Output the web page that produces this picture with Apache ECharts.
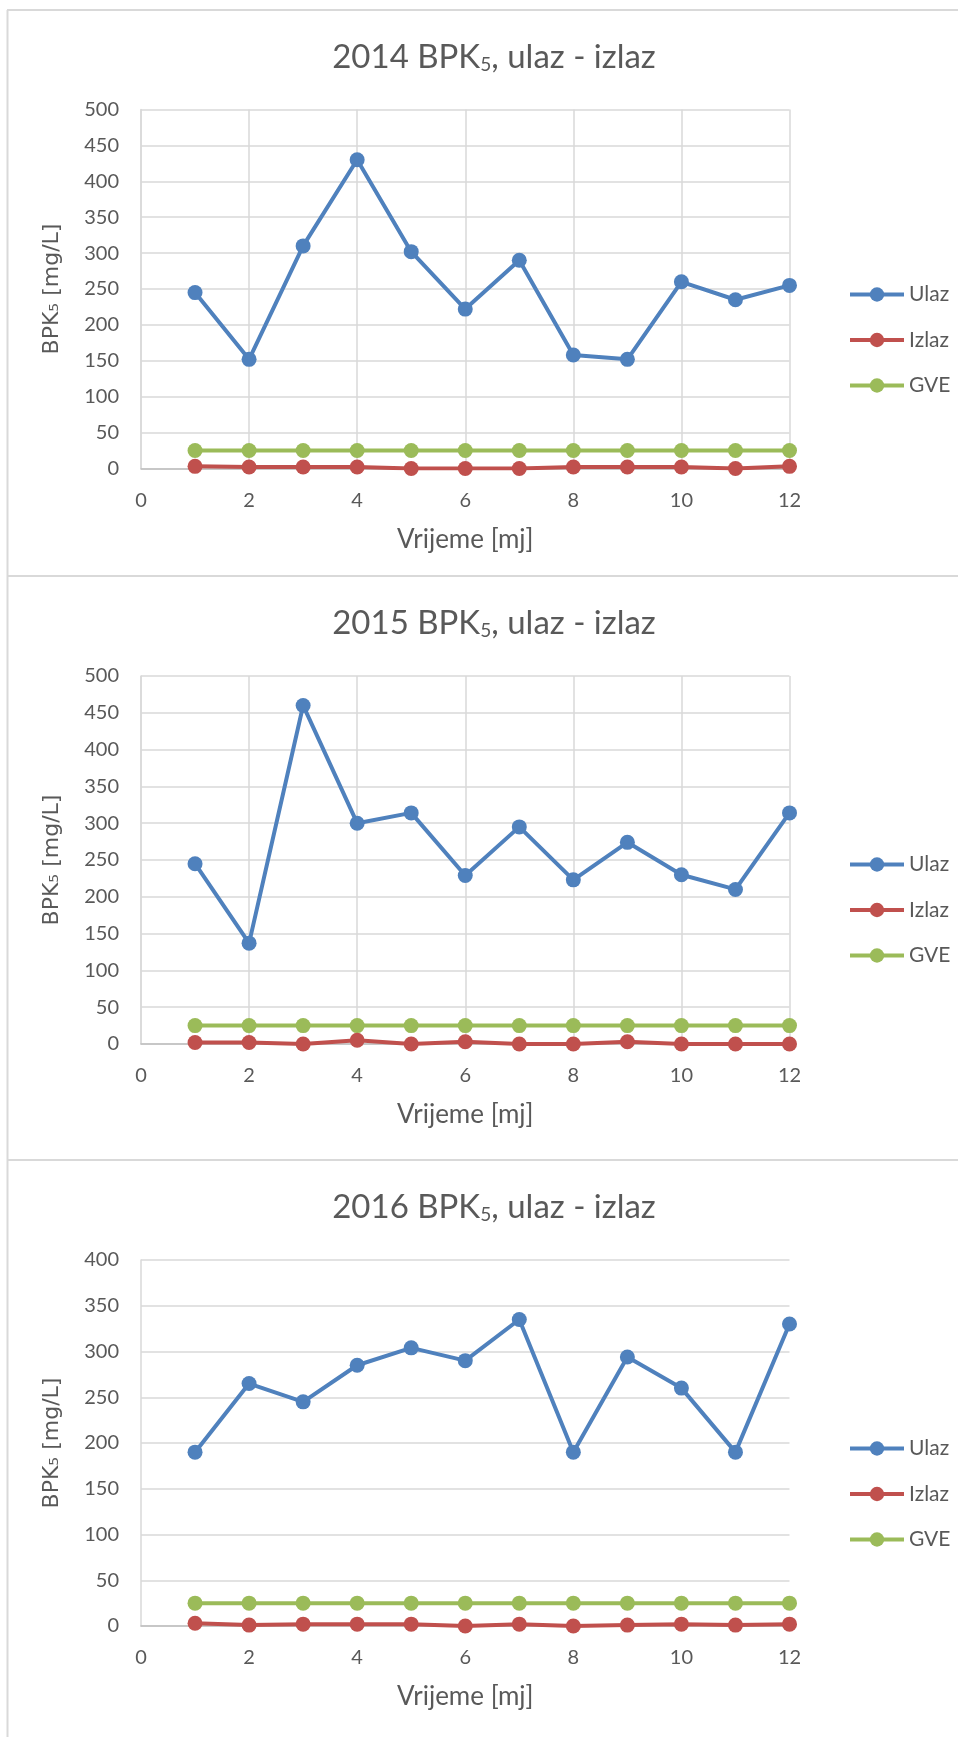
<!DOCTYPE html>
<html>
<head>
<meta charset="utf-8">
<script src="https://cdn.jsdelivr.net/npm/echarts@6/dist/echarts.min.js"></script>
<style>
html,body{margin:0;padding:0;background:#fff;}
#c{width:958px;height:1737px;}
</style>
</head>
<body>
<div id="c"></div>
<script>
// ---- data ----
const months = [1, 2, 3, 4, 5, 6, 7, 8, 9, 10, 11, 12];
const seriesNames = ['Ulaz', 'Izlaz', 'GVE'];
const years = ['2014', '2015', '2016'];

const ulaz2014 = [245, 152, 310, 430, 302, 222, 290, 158, 152, 260, 235, 255];
const izlaz2014 = [3, 2, 2, 2, 0, 0, 0, 2, 2, 2, 0, 3];
const gve2014 = [25, 25, 25, 25, 25, 25, 25, 25, 25, 25, 25, 25];

const ulaz2015 = [245, 137, 460, 300, 314, 229, 295, 223, 274, 230, 210, 314];
const izlaz2015 = [2, 2, 0, 5, 0, 3, 0, 0, 3, 0, 0, 0];
const gve2015 = [25, 25, 25, 25, 25, 25, 25, 25, 25, 25, 25, 25];

const ulaz2016 = [190, 265, 245, 285, 304, 290, 335, 190, 294, 260, 190, 330];
const izlaz2016 = [3, 1, 2, 2, 2, 0, 2, 0, 1, 2, 1, 2];
const gve2016 = [25, 25, 25, 25, 25, 25, 25, 25, 25, 25, 25, 25];

const yMax = [500, 500, 400];
const xTitle = 'Vrijeme [mj]';
const yTitle = 'BPK\u2085 [mg/L]';

// ---- layout / style ----
const colors = ['#4F81BD', '#C0504D', '#9BBB59'];
const txt = '#595959';
const FONT = 'Lato, sans-serif';
const YFONT = 'DejaVu Sans';
const panels = [
  { top: 109.5, h: 359, titleY: 36, legendTop: 279, vgrid: true, data: [ulaz2014, izlaz2014, gve2014] },
  { top: 676, h: 368, titleY: 602, legendTop: 849, vgrid: true, data: [ulaz2015, izlaz2015, gve2015] },
  { top: 1260, h: 366, titleY: 1186, legendTop: 1433, vgrid: false, data: [ulaz2016, izlaz2016, gve2016] }
];

const option = {
  animation: false,
  backgroundColor: '#fff',
  title: [], legend: [], grid: [], xAxis: [], yAxis: [], series: [],
  graphic: [
    { type: 'line', shape: { x1: 7.5, y1: 10, x2: 7.5, y2: 1737 }, style: { stroke: '#D9D9D9', lineWidth: 2 } },
    { type: 'line', shape: { x1: 7, y1: 10, x2: 958, y2: 10 }, style: { stroke: '#D9D9D9', lineWidth: 2 } },
    { type: 'line', shape: { x1: 7, y1: 576, x2: 958, y2: 576 }, style: { stroke: '#D9D9D9', lineWidth: 2 } },
    { type: 'line', shape: { x1: 7, y1: 1160, x2: 958, y2: 1160 }, style: { stroke: '#D9D9D9', lineWidth: 2 } }
  ]
};

panels.forEach((p, i) => {
  option.title.push({
    text: years[i] + ' BPK{s|5}, ulaz - izlaz',
    left: 489, top: p.titleY, textAlign: 'center',
    textStyle: {
      fontFamily: FONT, fontSize: 33, fontWeight: 'normal', color: txt,
      rich: { s: { fontFamily: FONT, fontSize: 19, color: txt, verticalAlign: 'bottom' } }
    }
  });
  option.legend.push({
    data: seriesNames,
    orient: 'vertical',
    left: 843, top: p.legendTop,
    itemWidth: 54, itemHeight: 18, itemGap: 24.5,
    lineStyle: { width: 4 },
    textStyle: { fontFamily: FONT, fontSize: 21, color: txt, lineHeight: 20 },
    selectedMode: false
  });
  option.grid.push({ left: 141, width: 648.5, top: p.top, height: p.h });
  option.xAxis.push({
    type: 'value', gridIndex: i, min: 0, max: 12, interval: 2,
    name: xTitle, nameLocation: 'middle', nameGap: 58,
    nameTextStyle: { fontFamily: FONT, fontSize: 26, color: txt },
    axisLine: { show: true, lineStyle: { color: '#BFBFBF', width: 1.5 } },
    axisTick: { show: false },
    axisLabel: { margin: 22, fontFamily: FONT, fontSize: 20, color: txt },
    splitLine: { show: p.vgrid, lineStyle: { color: '#D9D9D9', width: 1.5 } }
  });
  option.yAxis.push({
    type: 'value', gridIndex: i, min: 0, max: yMax[i], interval: 50,
    name: yTitle, nameLocation: 'middle', nameGap: 78,
    nameTextStyle: { fontFamily: YFONT, fontSize: 22, color: txt },
    axisLine: { show: true, lineStyle: { color: '#D9D9D9', width: 1.5 } },
    axisTick: { show: false },
    axisLabel: { margin: 22, fontFamily: FONT, fontSize: 20, color: txt },
    splitLine: { show: true, lineStyle: { color: '#D9D9D9', width: 1.5 } }
  });
  seriesNames.forEach((name, k) => {
    option.series.push({
      type: 'line', name: name, xAxisIndex: i, yAxisIndex: i,
      data: months.map((m, j) => [m, p.data[k][j]]),
      symbol: 'circle', symbolSize: 15,
      itemStyle: { color: colors[k] },
      lineStyle: { color: colors[k], width: 4 },
      z: 10 - k
    });
  });
});

const chart = echarts.init(document.getElementById('c'), null, { renderer: 'canvas' });
chart.setOption(option);
</script>
</body>
</html>
